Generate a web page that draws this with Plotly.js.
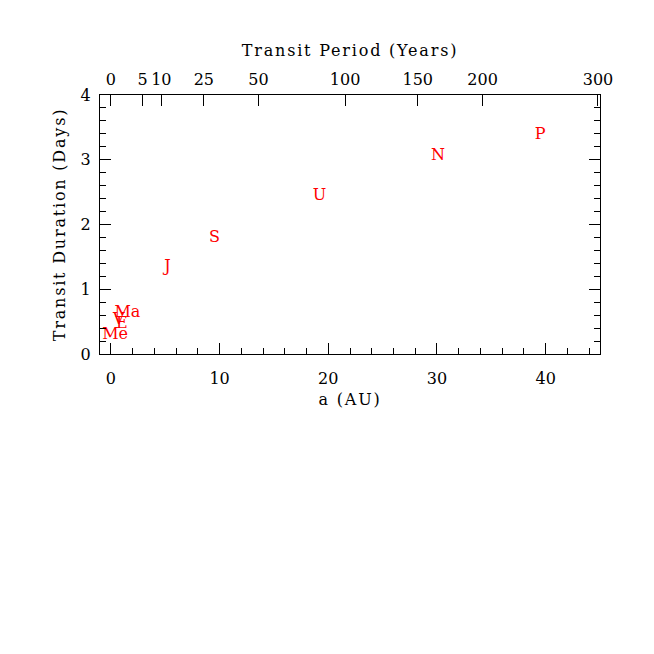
<!DOCTYPE html>
<html>
<head>
<meta charset="utf-8">
<script src="https://cdn.plot.ly/plotly-3.0.1.min.js"></script>
<style>
  body { margin: 0; background: #fff; }
  #plot { width: 654px; height: 654px; }
  /* the original uses a wide plotting font: spread the axis titles a little */
  .xtitle, .x2title, .ytitle { letter-spacing: 1.8px; }
</style>
</head>
<body>
<div id="plot"></div>
<script>
// planet labels, semi-major axis (AU) and transit duration (days)
var planetNames = ["Me", "V", "E", "Ma", "J", "S", "U", "N", "P"];
var semiMajor = [0.39, 0.72, 1.0, 1.52, 5.2, 9.54, 19.2, 30.1, 39.5];
var durations = [0.30, 0.52, 0.47, 0.63, 1.35, 1.79, 2.44, 3.06, 3.39];

// top axis: orbital period labels (years), placed where a = P^(2/3)
var periodLabels = [0, 5, 10, 25, 50, 100, 150, 200, 300];
var periodPos = periodLabels.map(p => Math.pow(p, 2 / 3));

var serif = "DejaVu Serif, Liberation Serif, serif";

var trace = {
    x: semiMajor,
    y: durations,
    text: planetNames,
    mode: "text",
    type: "scatter",
    textposition: "middle center",
    textfont: {family: serif, size: 16, color: "#ff0000"},
    hoverinfo: "none",
    cliponaxis: false
};

// invisible trace so the top axis gets drawn
var topTrace = {
    x: [periodPos[0]],
    y: [0],
    xaxis: "x2",
    mode: "markers",
    marker: {opacity: 0},
    hoverinfo: "none",
    showlegend: false
};

var layout = {
    width: 654,
    height: 654,
    showlegend: false,
    paper_bgcolor: "#fff",
    plot_bgcolor: "#fff",
    margin: {l: 100, r: 54, t: 95, b: 300},
    font: {family: serif, size: 16, color: "#000"},
    xaxis: {
        range: [-1, 45],
        tickvals: [0, 10, 20, 30, 40],
        ticks: "inside",
        ticklen: 11,
        tickcolor: "#000",
        ticklabelstandoff: 10,
        showgrid: false,
        zeroline: false,
        showline: true,
        linecolor: "#000",
        linewidth: 1,
        minor: {ticks: "inside", dtick: 2, ticklen: 6, tickcolor: "#000", showgrid: false},
        title: {text: "a (AU)", font: {family: serif, size: 16}, standoff: 6},
        tickfont: {family: serif, size: 16}
    },
    xaxis2: {
        overlaying: "x",
        side: "top",
        range: [-1, 45],
        tickvals: periodPos,
        ticktext: periodLabels.map(String),
        ticks: "inside",
        ticklen: 11,
        tickcolor: "#000",
        ticklabelstandoff: 3,
        showgrid: false,
        zeroline: false,
        showline: true,
        linecolor: "#000",
        linewidth: 1,
        title: {text: "Transit Period (Years)", font: {family: serif, size: 16}, standoff: 8},
        tickfont: {family: serif, size: 16}
    },
    yaxis: {
        range: [0, 4],
        dtick: 1,
        ticks: "inside",
        ticklen: 11,
        tickcolor: "#000",
        ticklabelstandoff: 5,
        showgrid: false,
        zeroline: false,
        showline: true,
        mirror: "ticks",
        linecolor: "#000",
        linewidth: 1,
        minor: {ticks: "inside", dtick: 0.2, ticklen: 6, tickcolor: "#000", showgrid: false},
        title: {text: "Transit Duration (Days)", font: {family: serif, size: 16}, standoff: 11},
        tickfont: {family: serif, size: 16}
    }
};

Plotly.newPlot("plot", [trace, topTrace], layout, {displayModeBar: false, staticPlot: true});
</script>
</body>
</html>
